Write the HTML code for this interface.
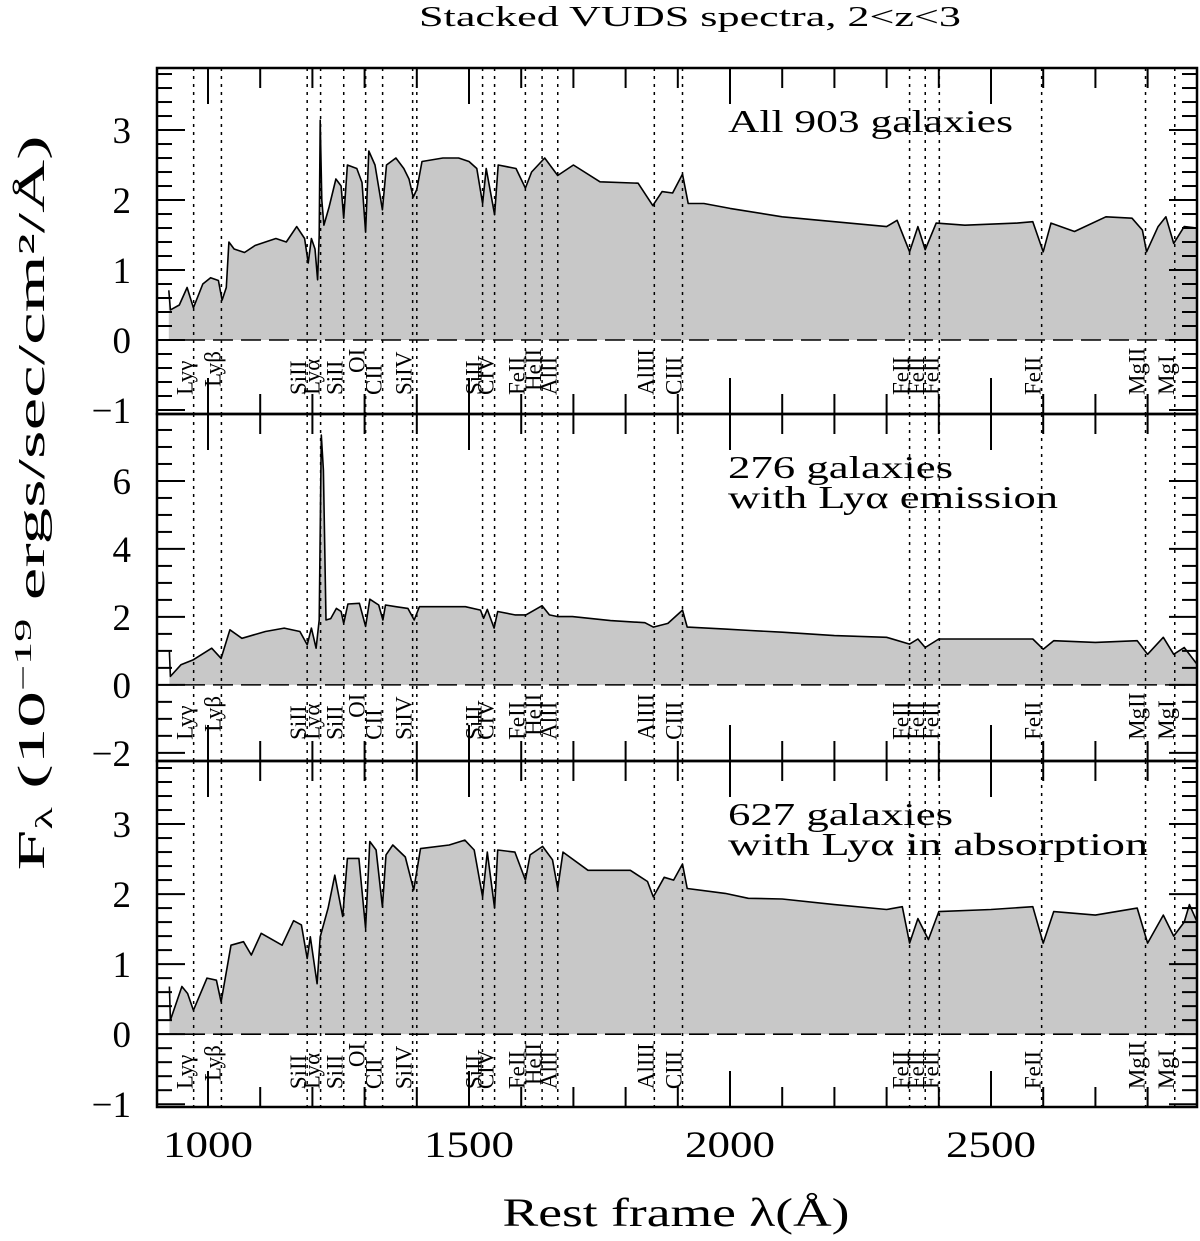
<!DOCTYPE html>
<html><head><meta charset="utf-8"><style>
html,body{margin:0;padding:0;background:#fff;}
svg{display:block;font-family:"Liberation Serif",serif;}
</style></head><body>
<svg id="chart" xmlns="http://www.w3.org/2000/svg" width="1200" height="1241" viewBox="0 0 1200 1241">
<text x="690" y="26" font-size="28" text-anchor="middle" textLength="542" lengthAdjust="spacingAndGlyphs">Stacked VUDS spectra, 2&lt;z&lt;3</text>
<text transform="translate(44,503) rotate(-90)" font-size="38" text-anchor="middle" textLength="735" lengthAdjust="spacingAndGlyphs">F<tspan font-size="24" dy="8">λ</tspan><tspan dy="-8"> (10</tspan><tspan font-size="24" dy="-13">−19</tspan><tspan dy="13"> ergs/sec/cm²/Å)</tspan></text>
<text x="676" y="1226" font-size="40" text-anchor="middle" textLength="347" lengthAdjust="spacingAndGlyphs">Rest frame λ(Å)</text>
<g id="plots"></g>
</svg>
<script>
// x-axis domain & ticks
const xTickLabels = [1000, 1500, 2000, 2500];
// spectral line identifications
const lineWaves = [972.5, 1025.7, 1190, 1215.7, 1260, 1302, 1334.5, 1392, 1400, 1526, 1549, 1608, 1640, 1670, 1855, 1909, 2344, 2374, 2401, 2597, 2796, 2852];
const lineNames = ["Lyγ","Lyβ","SiII","Lyα","SiII","OI","CII","SiIV","","SiII","CIV","FeII","HeII","AlII","AlIII","CIII","FeII","FeII","FeII","FeII","MgII","MgI"];
const lineLift = [0,8,0,0,0,22,0,0,0,0,0,0,4,0,0,0,0,0,0,0,0,0];

// Panel 1: all 903 galaxies
const p1Waves = [925,928,945,960,972,990,1005,1020,1027,1035,1040,1050,1070,1090,1110,1130,1150,1170,1185,1192,1198,1205,1210,1213,1215,1218,1222,1232,1245,1255,1260,1267,1285,1295,1302,1308,1320,1334,1342,1360,1375,1385,1393,1400,1410,1450,1480,1500,1515,1526,1533,1549,1556,1590,1608,1620,1645,1670,1700,1751,1824,1852,1870,1890,1909,1920,1950,2000,2100,2200,2300,2320,2344,2360,2374,2395,2450,2550,2580,2600,2615,2660,2720,2770,2790,2798,2820,2835,2850,2870,2895];
const p1Flux = [0.71,0.43,0.5,0.75,0.46,0.8,0.89,0.85,0.57,0.75,1.4,1.3,1.25,1.35,1.4,1.45,1.4,1.62,1.45,1.1,1.45,1.3,0.86,1.5,3.14,2.0,1.64,1.9,2.3,2.2,1.74,2.5,2.45,2.25,1.54,2.7,2.5,1.86,2.5,2.6,2.45,2.3,2.04,2.15,2.55,2.6,2.6,2.55,2.45,1.95,2.45,1.79,2.5,2.45,2.17,2.4,2.6,2.35,2.5,2.26,2.24,1.92,2.12,2.1,2.37,1.95,1.95,1.88,1.76,1.69,1.62,1.71,1.26,1.62,1.29,1.67,1.64,1.67,1.69,1.26,1.67,1.55,1.76,1.74,1.57,1.26,1.62,1.76,1.38,1.62,1.6];

// Panel 2: 276 galaxies with Lya emission
const p2Waves = [926,928,948,972,1007,1025,1042,1065,1110,1146,1176,1190,1198,1207,1213,1217,1221,1226,1235,1246,1255,1260,1268,1290,1302,1310,1327,1335,1340,1360,1383,1395,1405,1441,1493,1522,1528,1535,1548,1555,1588,1609,1640,1654,1670,1698,1771,1837,1853,1881,1909,1918,1991,2039,2100,2200,2300,2344,2360,2374,2400,2500,2580,2600,2620,2700,2780,2800,2830,2850,2870,2895];
const p2Flux = [0.98,0.25,0.59,0.74,1.08,0.78,1.62,1.37,1.57,1.67,1.57,1.18,1.67,1.08,1.91,7.35,6.32,1.91,1.95,2.25,2.16,1.81,2.38,2.4,1.72,2.52,2.35,1.91,2.35,2.3,2.25,1.91,2.3,2.3,2.3,2.2,1.96,2.22,1.67,2.16,2.06,2.06,2.33,2.06,2.01,2.01,1.89,1.83,1.7,1.81,2.2,1.7,1.64,1.6,1.55,1.45,1.4,1.2,1.35,1.1,1.35,1.35,1.35,1.05,1.3,1.25,1.3,0.9,1.4,0.9,1.1,0.6];

// Panel 3: 627 galaxies with Lya in absorption
const p3Waves = [926,928,950,961,972,998,1016,1025,1044,1068,1083,1102,1142,1164,1179,1190,1196,1209,1215,1230,1243,1258,1267,1289,1302,1310,1322,1334,1341,1354,1378,1394,1407,1462,1492,1510,1526,1535,1549,1555,1588,1608,1617,1641,1660,1670,1680,1728,1809,1842,1853,1874,1892,1909,1918,1991,2035,2100,2200,2300,2330,2344,2360,2380,2400,2500,2580,2600,2620,2700,2780,2800,2830,2850,2870,2880,2895];
const p3Flux = [0.68,0.2,0.68,0.58,0.34,0.8,0.77,0.46,1.27,1.32,1.13,1.44,1.27,1.62,1.56,1.08,1.39,0.72,1.39,1.8,2.27,1.68,2.51,2.51,1.51,2.75,2.63,1.82,2.56,2.7,2.53,2.06,2.65,2.7,2.77,2.63,1.96,2.6,1.8,2.63,2.6,2.2,2.56,2.68,2.49,2.08,2.6,2.34,2.34,2.18,1.96,2.24,2.2,2.43,2.08,2.01,1.94,1.93,1.85,1.78,1.82,1.3,1.65,1.35,1.75,1.78,1.82,1.3,1.75,1.7,1.8,1.3,1.7,1.4,1.6,1.85,1.6];

const panelTitles = [["All 903 galaxies"],["276 galaxies","with Lyα emission"],["627 galaxies","with Lyα in absorption"]];
const panelTitleLen = [[285],[225,330],[225,420]];
const panelYTicks = [[3,2,1,0,-1],[6,4,2,0,-2],[3,2,1,0,-1]];

const NS = "http://www.w3.org/2000/svg";
const X0 = 157, X1 = 1197, W0 = 902.3, W1 = 2894.6;
function xs(w){ return X0 + (w - W0) / (W1 - W0) * (X1 - X0); }
const panels = [
  {top:68,bot:414,ymin:-1.057,ymax:3.886,minor:0.2,major:1,waves:p1Waves,flux:p1Flux},
  {top:414,bot:761,ymin:-2.24,ymax:7.97,minor:0.5,major:2,waves:p2Waves,flux:p2Flux},
  {top:761,bot:1107,ymin:-1.04,ymax:3.9,minor:0.2,major:1,waves:p3Waves,flux:p3Flux}
];
const root = document.getElementById('plots');
function mk(tag, attrs, parent){
  const e = document.createElementNS(NS, tag);
  for (const k in attrs) e.setAttribute(k, attrs[k]);
  (parent||root).appendChild(e);
  return e;
}
panels.forEach((p, pi) => {
  const ys = v => p.bot - (v - p.ymin) / (p.ymax - p.ymin) * (p.bot - p.top);
  const g = mk('g', {});
  
  
  let pts = p.waves.map((w,i) => xs(w).toFixed(1) + ',' + ys(p.flux[i]).toFixed(1));
  const poly = mk('polygon', {points: xs(p.waves[0]).toFixed(1)+','+ys(0)+' '+pts.join(' ')+' '+xs(p.waves[p.waves.length-1]).toFixed(1)+','+ys(0), fill:'#c8c8c8', stroke:'none'}, g);
  
  
  const pl = mk('polyline', {points: pts.join(' '), fill:'none', stroke:'#000', 'stroke-width':1.6, 'stroke-linejoin':'round'}, g);
  
  
  const z = mk('line', {x1:X0, x2:X1, y1:ys(0), y2:ys(0), stroke:'#000', 'stroke-width':1.6, 'stroke-dasharray':'20 8'}, g);
  
  
  lineWaves.forEach((w, i) => {
    const x = xs(w);
    const l = mk('line', {x1:x, x2:x, y1:p.top, y2:p.bot, stroke:'#000', 'stroke-width':1.5, 'stroke-dasharray':'3 5'}, g);
    
    
    if (lineNames[i]) {
      const yb = ys(0) + 55 - lineLift[i];
      const t = mk('text', {transform:'translate('+(x-1)+','+yb+') rotate(-90)', 'font-size':23}, g);
      t.textContent = lineNames[i];
      
      
    }
  });
  for (let w = 1000; w <= 2800; w += 100) {
    const x = xs(w), L = (w % 500 === 0) ? 36 : 20;
    mk('line', {x1:x,x2:x,y1:p.top,y2:p.top+L,stroke:'#000','stroke-width':2}, g);
    mk('line', {x1:x,x2:x,y1:p.bot,y2:p.bot-L,stroke:'#000','stroke-width':2}, g);
  }
  for (let v = Math.ceil(p.ymin/p.minor)*p.minor; v <= p.ymax; v += p.minor) {
    const y = ys(v);
    const isMaj = Math.abs(v/p.major - Math.round(v/p.major)) < 1e-6;
    const L = isMaj ? 28 : 15;
    mk('line', {x1:X0,x2:X0+L,y1:y,y2:y,stroke:'#000','stroke-width':2}, g);
    mk('line', {x1:X1,x2:X1-L,y1:y,y2:y,stroke:'#000','stroke-width':2}, g);
  }
  panelYTicks[pi].forEach(v => {
    const t = mk('text', {x:131, y:ys(v)+13, 'font-size':37, 'text-anchor':'end'}, g);
    t.textContent = v < 0 ? '−' + (-v) : String(v);
    
    
  });
  const f = mk('rect', {x:X0, y:p.top, width:X1-X0, height:p.bot-p.top, fill:'none', stroke:'#000', 'stroke-width':2.5}, g);
  
  
  panelTitles[pi].forEach((s, k) => {
    const t = mk('text', {x:728, y:p.top + 64 + k*30, 'font-size':32, textLength: panelTitleLen[pi][k], lengthAdjust:'spacingAndGlyphs'}, g);
    t.textContent = s;
    
    
  });
});
xTickLabels.forEach(w => {
  const t = mk('text', {x:xs(w), y:1157, 'font-size':37, 'text-anchor':'middle', textLength:90, lengthAdjust:'spacingAndGlyphs'});
  t.textContent = String(w);
  
  
});
</script>
</body></html>
